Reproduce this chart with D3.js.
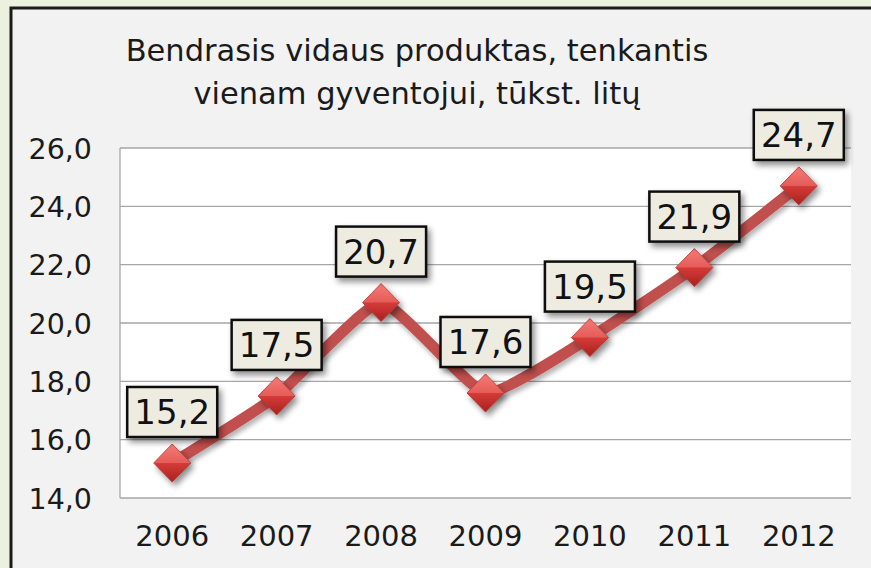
<!DOCTYPE html>
<html><head><meta charset="utf-8">
<script src="https://cdn.jsdelivr.net/npm/d3@7"></script>
<style>
html,body{margin:0;padding:0;background:#ebf1de;}
svg{display:block;}
</style></head>
<body>
<script>
const years = ["2006","2007","2008","2009","2010","2011","2012"];
const values = [15.2, 17.5, 20.7, 17.6, 19.5, 21.9, 24.7];
const valueLabels = ["15,2","17,5","20,7","17,6","19,5","21,9","24,7"];
const yTicks = [14, 16, 18, 20, 22, 24, 26];
const titleLines = ["Bendrasis vidaus produktas, tenkantis", "vienam gyventojui, tūkst. litų"];

const W = 871, H = 568;
const svg = d3.select("body").append("svg").attr("width", W).attr("height", H);
const defs = svg.append("defs");

const sh = defs.append("filter").attr("id","shadow").attr("x","-30%").attr("y","-30%").attr("width","170%").attr("height","170%");
sh.append("feGaussianBlur").attr("in","SourceAlpha").attr("stdDeviation",3);
sh.append("feOffset").attr("dx",3).attr("dy",4).attr("result","ob");
sh.append("feComponentTransfer").append("feFuncA").attr("type","linear").attr("slope",0.45);
const m = sh.append("feMerge"); m.append("feMergeNode"); m.append("feMergeNode").attr("in","SourceGraphic");

const lsh = defs.append("filter").attr("id","lshadow").attr("x","-10%").attr("y","-10%").attr("width","130%").attr("height","130%");
lsh.append("feGaussianBlur").attr("in","SourceAlpha").attr("stdDeviation",2.5);
lsh.append("feOffset").attr("dx",2).attr("dy",4).attr("result","ob");
lsh.append("feComponentTransfer").append("feFuncA").attr("type","linear").attr("slope",0.3);
const m2 = lsh.append("feMerge"); m2.append("feMergeNode"); m2.append("feMergeNode").attr("in","SourceGraphic");

const gr = defs.append("linearGradient").attr("id","dg").attr("x1","0").attr("y1","0").attr("x2","0").attr("y2","1");
gr.append("stop").attr("offset","0").attr("stop-color","#f06a66");
gr.append("stop").attr("offset","0.5").attr("stop-color","#d63b38");
gr.append("stop").attr("offset","1").attr("stop-color","#a8211f");

// chart area
svg.append("rect").attr("x",11).attr("y",8).attr("width",W).attr("height",H)
  .attr("fill","#f2f2f2").attr("stroke","#1b1b1b").attr("stroke-width",3);

const plot = {left:120, right:851, top:148, bottom:498};
const x = d3.scaleBand().domain(years).range([plot.left, plot.right]);
const y = d3.scaleLinear().domain([14, 26]).range([plot.bottom, plot.top]);

svg.append("rect").attr("x",plot.left).attr("y",plot.top).attr("width",plot.right-plot.left)
  .attr("height",plot.bottom-plot.top).attr("fill","#ffffff");

// gridlines
svg.append("g").selectAll("line").data(yTicks).join("line")
  .attr("x1",plot.left).attr("x2",plot.right)
  .attr("y1",d=>y(d)).attr("y2",d=>y(d))
  .attr("stroke","#a6a6a6").attr("stroke-width",1.3);
svg.append("line").attr("x1",plot.left).attr("x2",plot.left).attr("y1",plot.top).attr("y2",plot.bottom)
  .attr("stroke","#a6a6a6").attr("stroke-width",1.3);

// y axis
const yAxis = d3.axisLeft(y).tickValues(yTicks).tickSize(0).tickPadding(0)
  .tickFormat(d => d3.format(".1f")(d).replace(".", ","));
const ya = svg.append("g").attr("transform",`translate(92,0)`).call(yAxis);
ya.select(".domain").remove();
ya.selectAll("text").attr("font-family","DejaVu Sans").attr("font-size",28.5).attr("fill","#1a1a1a").attr("dy","0.36em");

// x axis
const xAxis = d3.axisBottom(x).tickSize(0).tickPadding(0);
const xa = svg.append("g").attr("transform",`translate(0,${plot.bottom+27})`).call(xAxis);
xa.select(".domain").remove();
xa.selectAll("text").attr("font-family","DejaVu Sans").attr("font-size",29).attr("fill","#1a1a1a").attr("dy","0.71em");

// title
svg.append("g").selectAll("text").data(titleLines).join("text")
  .attr("x",417).attr("y",(d,i)=>61+i*43).attr("text-anchor","middle")
  .attr("font-family","DejaVu Sans").attr("font-size",30.5).attr("fill","#1a1a1a")
  .text(d=>d);

// line
const pts = years.map((yr,i)=>[x(yr)+x.bandwidth()/2, y(values[i])]);
svg.append("path").attr("d", d3.line().curve(d3.curveCardinal.tension(0.55))(pts))
  .attr("fill","none").attr("stroke","#c0504d").attr("stroke-width",11)
  .attr("stroke-linejoin","round").attr("filter","url(#lshadow)");

// markers
const mk = svg.append("g").selectAll("g").data(pts).join("g")
  .attr("transform",d=>`translate(${d[0]},${d[1]})`).attr("filter","url(#shadow)");
mk.append("path").attr("d","M0,-19L18.5,0L0,19L-18.5,0Z").attr("fill","url(#dg)")
  .attr("stroke","#b33a37").attr("stroke-width",1);
mk.append("path").attr("d","M0,-19L18.5,0L0,0L-18.5,0Z").attr("fill","#ff9a96").attr("opacity",0.35);

// labels
const lb = svg.append("g").selectAll("g").data(pts).join("g")
  .attr("transform",d=>`translate(${d[0]},${d[1]-51})`);
lb.append("rect").attr("x",-45).attr("y",-25).attr("width",90).attr("height",50)
  .attr("fill","#eeece1").attr("stroke","#0d0d0d").attr("stroke-width",2.5).attr("filter","url(#shadow)");
lb.append("text").attr("text-anchor","middle").attr("dy","0.36em")
  .attr("font-family","DejaVu Sans").attr("font-size",34).attr("fill","#111")
  .text((d,i)=>valueLabels[i]);
</script>
</body></html>
